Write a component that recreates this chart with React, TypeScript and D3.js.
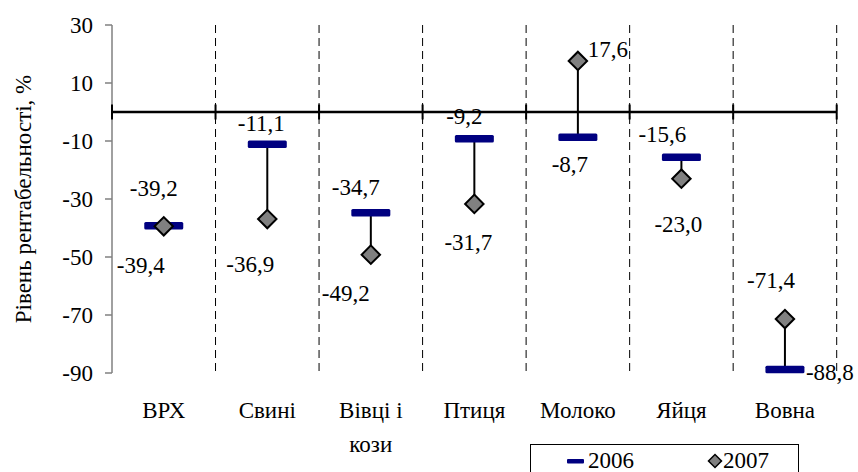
import * as d3 from "d3";

const categories = ["ВРХ", "Свині", "Вівці і кози", "Птиця", "Молоко", "Яйця", "Вовна"];
const values2006 = [-39.2, -11.1, -34.7, -9.2, -8.7, -15.6, -88.8];
const values2007 = [-39.4, -36.9, -49.2, -31.7, 17.6, -23.0, -71.4];
const yTicks = [30, 10, -10, -30, -50, -70, -90];
const seriesNames = ["2006", "2007"];
const yTitle = "Рівень рентабельності, %";

// hand-placed label offsets (dx, dy from the marker), like the original chart
const labelPos2006: [number, number, string][] = [
  [-10, -30, "middle"],
  [-6, -13, "middle"],
  [-15, -18, "middle"],
  [-10, -15, "middle"],
  [-8, 35, "middle"],
  [-19, -15, "middle"],
  [21, 10, "start"],
];
const labelPos2007: [number, number, string][] = [
  [-23, 47, "middle"],
  [-17, 53, "middle"],
  [-25, 46, "middle"],
  [-6, 46, "middle"],
  [30, -4, "middle"],
  [-3, 53, "middle"],
  [-14, -31, "middle"],
];

const W = 858;
const H = 472;
const NAVY = "#000080";
const GREY = "#808080";
const txt = { fontFamily: "Liberation Serif", fontSize: "23px" };

const fmt = (v: number) => v.toFixed(1).replace(".", ",");

// greedy wrap on words, max 7 chars per line
function wrap(label: string, max = 7): string[] {
  const lines: string[] = [];
  let cur = "";
  for (const w of label.split(" ")) {
    const next = cur ? cur + " " + w : w;
    if (next.length > max && cur) {
      lines.push(cur);
      cur = w;
    } else cur = next;
  }
  if (cur) lines.push(cur);
  return lines;
}

const x = d3.scaleBand<string>().domain(categories).range([112, 836.7]);
const y = d3.scaleLinear().domain([-90, 30]).range([373, 25]);
const cx = (c: string) => (x(c) ?? 0) + x.bandwidth() / 2;
const top = y(30);
const bottom = y(-90);
const left = x.range()[0];
const right = x.range()[1];
const diamond = d3.symbol().type(d3.symbolSquare).size(170)() ?? "";
const legendDiamond = d3.symbol().type(d3.symbolSquare).size(85)() ?? "";

export default function App() {
  return (
    <svg
      width={W}
      height={H}
      style={{ position: "absolute", left: 0, top: 0, background: "#fff" }}
      role="img"
      aria-label="Рівень рентабельності"
    >
      {/* dashed separators at band edges */}
      {categories.map((c) => {
        const xx = (x(c) ?? 0) + x.bandwidth();
        return (
          <line key={"sep" + c} x1={xx} x2={xx} y1={top} y2={bottom} stroke="#000" strokeWidth={1} strokeDasharray="8,5" />
        );
      })}

      {/* y axis */}
      <line x1={left} x2={left} y1={top} y2={bottom} stroke={GREY} strokeWidth={1.5} />
      {yTicks.map((t) => (
        <g key={"yt" + t}>
          <line x1={left - 7} x2={left} y1={y(t)} y2={y(t)} stroke={GREY} strokeWidth={1.5} />
          <text x={left - 19} y={y(t)} dy="0.34em" textAnchor="end" style={txt}>
            {t}
          </text>
        </g>
      ))}

      <text transform={`translate(31,${(top + bottom) / 2}) rotate(-90)`} textAnchor="middle" style={txt}>
        {yTitle}
      </text>

      {/* category labels */}
      {categories.map((c) => (
        <text key={"cat" + c} x={cx(c)} y={418} textAnchor="middle" style={txt}>
          {wrap(c).map((line, i) => (
            <tspan key={i} x={cx(c)} dy={i === 0 ? 0 : 34}>
              {line}
            </tspan>
          ))}
        </text>
      ))}

      {/* data labels */}
      {categories.map((c, i) => (
        <g key={"lab" + c}>
          <text
            x={cx(c) + labelPos2006[i][0]}
            y={y(values2006[i]) + labelPos2006[i][1]}
            textAnchor={labelPos2006[i][2] as any}
            style={txt}
          >
            {fmt(values2006[i])}
          </text>
          <text
            x={cx(c) + labelPos2007[i][0]}
            y={y(values2007[i]) + labelPos2007[i][1]}
            textAnchor={labelPos2007[i][2] as any}
            style={txt}
          >
            {fmt(values2007[i])}
          </text>
        </g>
      ))}

      {/* zero line with crossing ticks */}
      <line x1={left} x2={right} y1={y(0)} y2={y(0)} stroke="#000" strokeWidth={2.5} />
      {[...categories.map((c) => x(c) ?? 0), right].map((xx, i) => (
        <line key={"zt" + i} x1={xx} x2={xx} y1={y(0) - 7.5} y2={y(0) + 7.5} stroke="#000" strokeWidth={2} />
      ))}

      {/* high-low stems */}
      {categories.map((c, i) => (
        <line key={"st" + c} x1={cx(c)} x2={cx(c)} y1={y(values2006[i])} y2={y(values2007[i])} stroke="#000" strokeWidth={2} />
      ))}

      {/* 2006 dashes */}
      {categories.map((c, i) => (
        <rect key={"d6" + c} x={cx(c) - 19.5} y={y(values2006[i]) - 3.75} width={39} height={7.5} rx={1.5} fill={NAVY} />
      ))}

      {/* 2007 diamonds */}
      {categories.map((c, i) => (
        <path
          key={"d7" + c}
          d={diamond}
          transform={`translate(${cx(c)},${y(values2007[i])}) rotate(45)`}
          fill={GREY}
          stroke="#000"
          strokeWidth={2}
        />
      ))}

      {/* legend */}
      <rect x={530.5} y={444.5} width={268} height={40} fill="#fff" stroke="#000" strokeWidth={1} />
      <rect x={567} y={459} width={17} height={4.5} rx={1} fill={NAVY} />
      <path d={legendDiamond} transform="translate(715,461) rotate(45)" fill={GREY} stroke="#000" strokeWidth={1.5} />
      {seriesNames.map((s, i) => (
        <text key={s} x={i === 0 ? 588 : 723} y={468} style={txt}>
          {s}
        </text>
      ))}
    </svg>
  );
}
